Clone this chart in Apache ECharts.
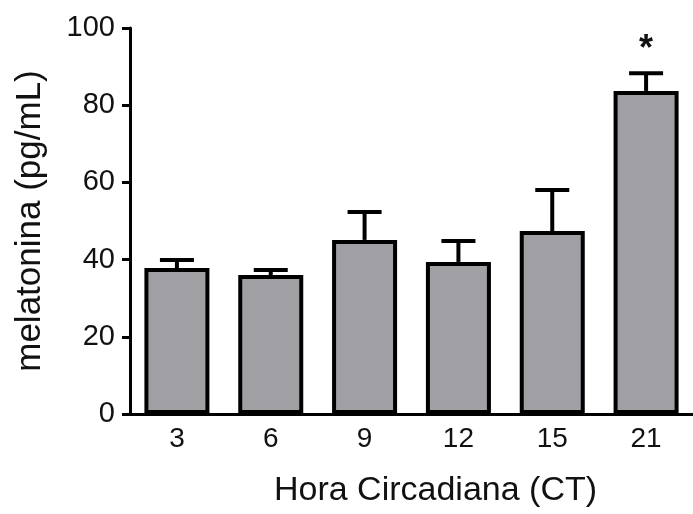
<!DOCTYPE html>
<html>
<head>
<meta charset="utf-8">
<script src="https://cdn.jsdelivr.net/npm/echarts@6/dist/echarts.min.js"></script>
<style>
  html, body { margin: 0; padding: 0; background: #fff; }
  #chart { width: 693px; height: 514px; }
</style>
</head>
<body>
<div id="chart"></div>
<script>
// circadian hours (CT)
const hours = ["3", "6", "9", "12", "15", "21"];
// mean melatonin, pg/mL
const means = [37.8, 36.0, 45.1, 39.4, 47.4, 83.7];
// SEM (upper error only)
const errors = [2.1, 1.3, 7.2, 5.4, 10.6, 4.6];
// significance marks
const marks = ["", "", "", "", "", "*"];

const chart = echarts.init(document.getElementById("chart"));

const font = "Liberation Sans, Arial, sans-serif";

chart.setOption({
  animation: false,
  grid: { left: 130, top: 28, width: 570, height: 386 },
  xAxis: {
    type: "category",
    data: hours,
    name: "Hora Circadiana (CT)",
    nameLocation: "middle",
    nameGap: 60,
    nameTextStyle: { fontFamily: font, fontSize: 34, color: "#111", padding: [0, 0, 0, 48] },
    axisLine: { lineStyle: { color: "#000", width: 3 } },
    axisTick: { alignWithLabel: true, length: 9, lineStyle: { color: "#000", width: 3 } },
    axisLabel: { fontFamily: font, fontSize: 28, color: "#111", margin: 11 }
  },
  yAxis: {
    type: "value",
    min: 0,
    max: 100,
    interval: 20,
    name: "melatonina (pg/mL)",
    nameLocation: "middle",
    nameGap: 82,
    nameTextStyle: { fontFamily: font, fontSize: 35, color: "#111" },
    splitLine: { show: false },
    axisLine: { show: true, lineStyle: { color: "#000", width: 3 } },
    axisTick: { show: true, length: 8, lineStyle: { color: "#000", width: 3 } },
    axisLabel: { fontFamily: font, fontSize: 29, color: "#111", margin: 15 }
  },
  series: [
    {
      type: "bar",
      data: means,
      barWidth: 65,
      itemStyle: { color: "#a0a0a4", borderColor: "#000", borderWidth: 4 },
      z: 2
    },
    {
      type: "custom",
      z: 3,
      data: means.map((m, i) => [i, m, errors[i]]),
      renderItem: (params, api) => {
        const i = api.value(0);
        const base = api.coord([i, api.value(1)]);
        const top = api.coord([i, api.value(1) + api.value(2)]);
        const half = 17;
        const style = { stroke: "#000", lineWidth: 4 };
        const children = [
          { type: "line", shape: { x1: base[0], y1: base[1], x2: top[0], y2: top[1] }, style },
          { type: "line", shape: { x1: top[0] - half, y1: top[1], x2: top[0] + half, y2: top[1] }, style }
        ];
        if (marks[i]) {
          children.push({
            type: "text",
            style: {
              text: marks[i],
              x: top[0],
              y: top[1] - 5,
              align: "center",
              verticalAlign: "bottom",
              font: "bold 36px " + font,
              fill: "#111"
            }
          });
        }
        return { type: "group", children };
      }
    }
  ]
});
</script>
</body>
</html>
